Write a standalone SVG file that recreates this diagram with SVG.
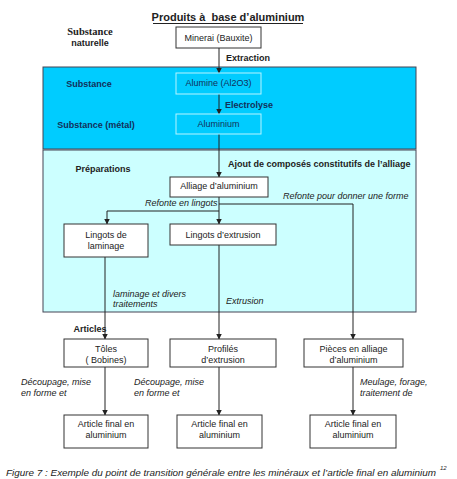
<svg xmlns="http://www.w3.org/2000/svg" width="457" height="479" viewBox="0 0 457 479">
<defs>
<marker id="arr" viewBox="0 0 6 6" refX="5.5" refY="3" markerWidth="6" markerHeight="6" markerUnits="userSpaceOnUse" orient="auto">
<path d="M0,0 L6,3 L0,6 z" fill="#222"/>
</marker>
<style>
text{font-family:"Liberation Sans",Arial,sans-serif;font-size:9px;fill:#222}
.b{font-weight:bold}
.i{font-style:italic}
.c{text-anchor:middle}
.box{fill:#fff;stroke:#333;stroke-width:1}
.bbox{fill:none;stroke:#b8f4ff;stroke-width:1}
.nv{fill:#13305a}
.ln{fill:none;stroke:#222;stroke-width:1}
</style>
</defs>
<rect x="43" y="67" width="373" height="82" fill="#00CCFF" stroke="#445" stroke-width="1"/>
<rect x="43" y="150" width="373" height="162" fill="#CCFFFF" stroke="#445" stroke-width="1"/>
<g id="title">
<text x="228" y="21" class="b c" style="font-size:11px">Produits à&#160; base d’aluminium</text>
<line x1="153" y1="23.5" x2="303" y2="23.5" stroke="#222" stroke-width="1"/>
</g>
<g id="labels">
<text x="90" y="35" class="c b" style="font-family:'Liberation Serif','Times New Roman',serif;font-size:10.5px">Substance</text>
<text x="90" y="46" class="c b">naturelle</text>
<text x="89" y="87" class="c b nv">Substance</text>
<text x="96" y="128" class="c b nv">Substance (métal)</text>
<text x="103" y="172" class="c b">Préparations</text>
<text x="90" y="332" class="c b">Articles</text>
</g>
<g id="connectors">
<line x1="219" y1="48" x2="219" y2="73" class="ln" marker-end="url(#arr)"/>
<text x="226" y="61" class="b">Extraction</text>
<line x1="219" y1="94" x2="219" y2="114" class="ln" marker-end="url(#arr)"/>
<text x="225" y="108" class="b nv">Electrolyse</text>
<line x1="219" y1="134" x2="219" y2="177" class="ln" marker-end="url(#arr)"/>
<text x="228" y="167" class="b">Ajout de composés constitutifs de l’alliage</text>
<line x1="219" y1="197" x2="219" y2="224" class="ln" marker-end="url(#arr)"/>
<text x="145" y="206" class="i">Refonte en lingots</text>
<polyline points="219,211 107,211 107,224" class="ln" marker-end="url(#arr)"/>
<polyline points="219,204 353,204 353,339" class="ln" marker-end="url(#arr)"/>
<text x="283" y="199" class="i">Refonte pour donner une forme</text>
<line x1="105" y1="257" x2="105" y2="339" class="ln" marker-end="url(#arr)"/>
<text x="113" y="297" class="i">laminage et divers</text>
<text x="113" y="307" class="i">traitements</text>
<line x1="219" y1="245" x2="219" y2="339" class="ln" marker-end="url(#arr)"/>
<text x="226" y="304" class="i">Extrusion</text>
<line x1="105" y1="367" x2="105" y2="415" class="ln" marker-end="url(#arr)"/>
<text x="21" y="385" class="i">Découpage, mise</text>
<text x="21" y="396" class="i">en forme et</text>
<line x1="219" y1="367" x2="219" y2="415" class="ln" marker-end="url(#arr)"/>
<text x="134" y="385" class="i">Découpage, mise</text>
<text x="134" y="396" class="i">en forme et</text>
<line x1="353" y1="367" x2="353" y2="415" class="ln" marker-end="url(#arr)"/>
<text x="360" y="385" class="i">Meulage, forage,</text>
<text x="360" y="396" class="i">traitement de</text>
</g>
<g id="minerai"><rect x="176" y="27" width="85" height="21" class="box"/><text x="218.5" y="40.5" class="c">Minerai (Bauxite)</text></g>
<g id="alumine"><rect x="176" y="73" width="85" height="21" class="bbox"/><text x="218.5" y="86" class="c nv">Alumine (Al2O3)</text></g>
<g id="aluminium"><rect x="176" y="114" width="85" height="20" class="bbox"/><text x="218.5" y="126.5" class="c nv">Aluminium</text></g>
<g id="alliage"><rect x="170" y="177" width="98" height="20" class="box"/><text x="219" y="189" class="c">Alliage d’aluminium</text></g>
<g id="lingots-laminage"><rect x="64" y="224" width="84" height="33" class="box"/><text x="106" y="238" class="c">Lingots de</text><text x="106" y="249" class="c">laminage</text></g>
<g id="lingots-extrusion"><rect x="170" y="224" width="106" height="21" class="box"/><text x="223" y="237.5" class="c">Lingots d’extrusion</text></g>
<g id="toles"><rect x="64" y="339" width="84" height="28" class="box"/><text x="106" y="352" class="c">Tôles</text><text x="106" y="362.5" class="c">( Bobines)</text></g>
<g id="profiles"><rect x="170" y="339" width="106" height="28" class="box"/><text x="223" y="352" class="c">Profilés</text><text x="223" y="362.5" class="c">d’extrusion</text></g>
<g id="pieces"><rect x="304" y="339" width="99" height="28" class="box"/><text x="353.5" y="352" class="c">Pièces en alliage</text><text x="353.5" y="362.5" class="c">d’aluminium</text></g>
<g id="final1"><rect x="64" y="415" width="84" height="33" class="box"/><text x="106" y="427" class="c">Article final en</text><text x="106" y="438" class="c">aluminium</text></g>
<g id="final2"><rect x="177" y="415" width="85" height="33" class="box"/><text x="219.5" y="427" class="c">Article final en</text><text x="219.5" y="438" class="c">aluminium</text></g>
<g id="final3"><rect x="310" y="415" width="86" height="33" class="box"/><text x="353" y="427" class="c">Article final en</text><text x="353" y="438" class="c">aluminium</text></g>
<g id="caption">
<text x="6" y="476" class="i" style="font-size:9.6px" textLength="430" lengthAdjust="spacingAndGlyphs">Figure 7 : Exemple du point de transition générale entre les minéraux et l’article final en aluminium</text>
<text x="440" y="470" class="i" style="font-size:6px">12</text>
</g>
</svg>
